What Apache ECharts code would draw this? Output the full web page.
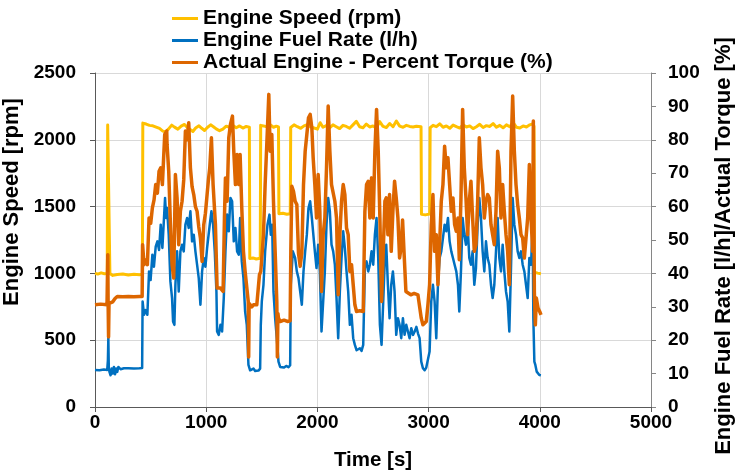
<!DOCTYPE html>
<html>
<head>
<meta charset="utf-8">
<script src="https://cdn.jsdelivr.net/npm/echarts@6/dist/echarts.min.js"></script>
<style>
html,body{margin:0;padding:0;background:#fff;}
#chart{width:735px;height:475px;}
</style>
</head>
<body>
<div id="chart"></div>
<script>
// Series names
var seriesNames = ['Engine Speed (rpm)', 'Engine Fuel Rate (l/h)', 'Actual Engine - Percent Torque (%)'];

// Engine speed [time s, rpm]
var speedData = [[0,1000],[25,995],[55,1004],[85,997],[110,1000],[114,2110],[130,2112],[134,1000],[160,985],[200,992],[250,995],[300,988],[350,994],[400,990],[426,993],[430,2125],[460,2118],[490,2108],[520,2105],[550,2095],[580,2085],[610,2065],[635,2060],[660,2080],[690,2110],[715,2095],[745,2080],[775,2102],[805,2115],[830,2092],[855,2078],[880,2062],[905,2088],[935,2105],[960,2086],[985,2070],[1010,2092],[1040,2112],[1065,2098],[1090,2082],[1120,2068],[1150,2080],[1180,2102],[1210,2094],[1240,2108],[1270,2090],[1300,2104],[1330,2088],[1360,2100],[1388,2095],[1392,1112],[1420,1116],[1450,1108],[1486,1114],[1490,2108],[1515,2104],[1545,2098],[1575,2112],[1605,2094],[1630,2102],[1650,2096],[1654,1446],[1690,1450],[1725,1443],[1756,1447],[1760,2092],[1790,2112],[1820,2098],[1850,2086],[1880,2104],[1910,2114],[1940,2096],[1970,2088],[2000,2080],[2025,2128],[2050,2094],[2080,2106],[2110,2090],[2140,2112],[2170,2098],[2200,2084],[2230,2108],[2260,2100],[2290,2086],[2320,2112],[2350,2138],[2380,2098],[2410,2090],[2440,2118],[2470,2096],[2500,2104],[2530,2088],[2560,2136],[2590,2100],[2620,2092],[2650,2122],[2680,2098],[2710,2140],[2740,2102],[2770,2094],[2800,2108],[2830,2100],[2860,2096],[2890,2102],[2932,2098],[2936,1442],[2970,1438],[3010,1444],[3014,2090],[3040,2108],[3070,2098],[3100,2120],[3130,2094],[3160,2104],[3190,2086],[3220,2110],[3250,2098],[3280,2088],[3310,2112],[3340,2096],[3370,2104],[3400,2084],[3430,2098],[3460,2116],[3490,2092],[3520,2106],[3550,2100],[3580,2122],[3610,2094],[3640,2108],[3670,2090],[3700,2112],[3730,2098],[3760,2128],[3790,2094],[3820,2088],[3850,2104],[3880,2096],[3910,2112],[3940,2120],[3948,2100],[3952,1010],[3980,1002],[4010,998]];

// Engine fuel rate [time s, l/h]
var fuelData = [[0,11.1],[40,11],[80,11.2],[110,11.1],[116,14],[120,20.7],[124,12],[130,10.5],[140,9.5],[150,11.5],[160,10],[170,12],[180,9.8],[190,11.5],[200,10.5],[210,12],[230,11.3],[260,11.6],[300,11.6],[350,11.5],[400,11.6],[424,11.7],[428,31.6],[441,27.6],[456,29],[471,27.6],[486,40.6],[500,38],[516,45.6],[530,42],[546,48],[561,49.6],[576,47],[591,54.6],[606,47.6],[618,55],[630,62.6],[640,56.6],[648,59.6],[663,51.6],[678,37.6],[693,32.6],[702,25.6],[714,24.6],[723,36.6],[738,46.6],[753,34.6],[768,46.6],[783,48.6],[798,46.6],[813,54.6],[828,56.6],[843,53.6],[858,58.6],[873,49.6],[888,51.6],[903,46.6],[918,42.6],[933,38.6],[948,30.6],[963,40.6],[978,44.6],[993,42],[1008,47.6],[1032,54.6],[1047,58.6],[1062,54.6],[1077,46.6],[1092,34.6],[1098,22.6],[1113,21.6],[1128,24.6],[1143,22.6],[1158,32.6],[1173,46.6],[1188,57.6],[1203,52.6],[1218,62.6],[1233,61.6],[1248,49.6],[1263,53.6],[1278,46.6],[1293,45.6],[1305,56.6],[1320,43.6],[1335,38.6],[1350,28.6],[1365,24.6],[1380,12.6],[1395,11],[1410,10.5],[1425,11.5],[1440,10.8],[1455,11.3],[1470,10.9],[1485,11.5],[1491,24.6],[1500,31.6],[1515,36.6],[1530,46.6],[1551,54.6],[1569,57.6],[1581,51.6],[1593,54.6],[1605,34.6],[1620,26.6],[1635,20.6],[1650,13.6],[1665,12],[1680,12.5],[1700,11.8],[1720,12.3],[1740,11.9],[1755,12.5],[1761,36.6],[1779,46.6],[1800,44.6],[1815,40.6],[1830,38.6],[1845,34.6],[1860,30.6],[1875,40.6],[1890,46.6],[1905,51.6],[1920,59.6],[1935,61.6],[1950,56.6],[1962,56.6],[1977,46.6],[1992,41.6],[2007,48.6],[2022,40.6],[2037,22.6],[2052,31.6],[2067,40.6],[2082,54.6],[2097,62.6],[2112,58.6],[2127,48.6],[2142,46.6],[2157,42.6],[2172,32.6],[2187,20.6],[2202,34.6],[2217,44.6],[2232,52.6],[2247,47.6],[2262,40.6],[2277,34.6],[2292,24.6],[2307,27.6],[2322,20.6],[2337,18.6],[2352,17],[2367,16.6],[2382,17.6],[2397,16.8],[2412,18.6],[2427,41.6],[2442,43.6],[2457,40.6],[2472,42.6],[2487,46.6],[2502,42.6],[2517,51.6],[2532,56.6],[2547,44.6],[2562,24.6],[2577,18.6],[2592,31.6],[2607,44.6],[2619,48.6],[2634,36.6],[2649,26.6],[2664,36.6],[2679,40.6],[2694,34.6],[2709,21.6],[2724,26.6],[2739,24.6],[2754,20.6],[2769,26.6],[2784,21.6],[2799,24.6],[2814,22.6],[2829,20.6],[2844,23.6],[2860,21.6],[2875,22.6],[2890,24],[2905,22],[2919,20.6],[2934,13.6],[2949,11.6],[2964,11],[2979,11.8],[2994,11.6],[3009,16.6],[3024,31.6],[3039,36.6],[3054,31.6],[3069,20.6],[3084,36.6],[3099,44.6],[3114,46.6],[3129,50.6],[3144,54.6],[3159,52.6],[3174,56.6],[3189,49.6],[3204,46.6],[3219,44.6],[3234,42.6],[3249,40.6],[3264,36.6],[3276,28.6],[3291,40.6],[3306,56.6],[3321,51.6],[3336,48.6],[3351,54.6],[3366,44.6],[3381,42.6],[3396,46.6],[3411,36.6],[3426,41.6],[3441,54.6],[3456,62.6],[3471,56.6],[3486,46.6],[3501,40.6],[3516,49.6],[3531,44.6],[3546,42.6],[3561,36.6],[3576,32.6],[3591,36.6],[3606,46.6],[3621,56.6],[3636,44.6],[3651,40.6],[3666,48.6],[3681,40.6],[3696,34.6],[3711,31.6],[3726,22.6],[3741,41.6],[3756,62.6],[3771,54.6],[3786,51.6],[3801,46.6],[3816,44.6],[3831,46.6],[3846,42.6],[3861,40.6],[3876,36.6],[3891,32.6],[3906,44.6],[3921,42.6],[3936,54.6],[3942,26.6],[3951,13.6],[3960,12.6],[3972,10.6],[3996,9.6],[4010,9.5]];

// Actual engine percent torque [time s, %]
var torqueData = [[0,30.6],[50,30.8],[108,30.6],[112,31],[115,45.6],[118,31],[122,21],[126,31],[140,30.8],[160,31.5],[180,32.5],[200,33.1],[250,33],[300,33.1],[350,33],[400,33.1],[424,33.1],[428,48.6],[441,42.6],[456,44],[471,42.6],[486,56.6],[501,55],[516,59.6],[531,62],[546,66.6],[561,64],[576,70.6],[591,71.6],[606,66.6],[627,81.6],[645,82.6],[648,78.6],[663,70.6],[678,55],[693,42.6],[708,38.6],[723,69.6],[738,62.6],[753,48.6],[768,58.6],[783,61.6],[798,68],[813,82.6],[828,80],[843,85.1],[858,71.6],[873,66],[888,63.6],[903,60],[918,58.6],[933,54],[948,50.6],[963,43.6],[978,54.6],[993,58],[1008,63.6],[1020,68],[1032,71.6],[1047,80.6],[1062,66.6],[1083,54.6],[1098,35.6],[1113,36],[1128,35.6],[1152,34.6],[1164,56.6],[1173,68.6],[1188,61.6],[1203,80.6],[1218,84.6],[1236,87.1],[1248,76.6],[1263,66.6],[1278,75.6],[1293,66.6],[1305,75.6],[1320,59.6],[1335,46.6],[1350,40.6],[1365,40.6],[1378,31.6],[1382,15],[1386,31],[1395,30.6],[1410,30],[1425,30.6],[1440,30.4],[1455,30.6],[1470,30.6],[1479,39.6],[1491,40.6],[1503,46],[1515,51.6],[1530,66.6],[1551,83.6],[1563,93.6],[1575,76.6],[1590,81.6],[1605,61.6],[1620,46.6],[1635,31.6],[1640,15],[1645,28],[1650,26.6],[1665,25.6],[1700,26],[1730,25.6],[1755,25.8],[1761,46.6],[1770,66.1],[1785,64.6],[1800,61.6],[1815,60.6],[1830,46],[1845,42.1],[1860,46],[1875,66.6],[1890,76.6],[1905,81.6],[1920,86.6],[1935,87.6],[1950,83.6],[1962,74.6],[1977,66.6],[1992,56.6],[2007,69.6],[2022,58.6],[2037,34.6],[2052,51.6],[2067,56.6],[2082,71.6],[2097,90.1],[2112,76.6],[2127,66.6],[2142,66.6],[2157,61.6],[2172,56.6],[2187,33.6],[2202,51.6],[2217,61.6],[2232,66.6],[2247,63.6],[2262,53.6],[2277,51.6],[2292,40.6],[2307,42.6],[2322,36.6],[2337,30.6],[2352,28.6],[2380,28.8],[2412,28.6],[2427,58.6],[2442,66.6],[2457,67.6],[2472,56.6],[2487,68.6],[2502,56.6],[2517,76.6],[2532,89.1],[2547,76.6],[2562,56.6],[2577,31.6],[2592,46.6],[2607,61.6],[2619,62.6],[2634,51.6],[2649,63.6],[2664,46.6],[2679,58.6],[2694,67.6],[2709,62.6],[2724,56.6],[2739,44.6],[2754,48],[2766,56],[2781,45],[2796,34.6],[2811,34.1],[2840,33.6],[2870,34],[2904,33.6],[2919,34],[2934,26.6],[2949,24.6],[2964,25.1],[2979,25.6],[2994,30.6],[3009,36.6],[3024,54.6],[3039,63.6],[3054,46.6],[3069,51.6],[3084,36.6],[3099,48.6],[3114,61.6],[3129,66.6],[3144,78.1],[3159,71.6],[3174,74.6],[3189,66.6],[3204,58.6],[3219,62.6],[3234,54.6],[3249,52.6],[3264,56.6],[3276,44.1],[3291,62.6],[3306,89.1],[3321,71.6],[3336,62.6],[3351,51.6],[3366,61.6],[3381,67.6],[3396,56.6],[3411,46.6],[3426,48.6],[3441,61.6],[3456,80.6],[3471,71.6],[3486,66.6],[3501,56.6],[3516,61.6],[3531,63.6],[3546,62.6],[3561,54.6],[3576,51.6],[3591,48.6],[3606,58.6],[3621,76.6],[3636,71.6],[3651,56.6],[3666,66.6],[3681,58.6],[3696,51.6],[3711,46.6],[3726,36.6],[3741,76.6],[3756,93.1],[3771,76.6],[3786,66.6],[3801,60.6],[3816,56.6],[3831,51.6],[3846,50.6],[3861,44.6],[3876,50.6],[3891,56.6],[3906,72.6],[3921,56.6],[3936,46.6],[3942,85.6],[3951,34.6],[3960,24.6],[3969,32.6],[3984,29.6],[3999,28.6],[4011,27.6]];

var FONT = "Arial, 'Liberation Sans', sans-serif";
function plain(v) { return String(v); }
var chart = echarts.init(document.getElementById('chart'), null, {renderer: 'canvas'});
chart.setOption({
  animation: false,
  backgroundColor: '#ffffff',
  textStyle: {fontFamily: FONT},
  legend: {
    orient: 'vertical', left: 167, top: 3, itemGap: 1,
    icon: 'rect', itemWidth: 26, itemHeight: 3,
    data: seriesNames,
    textStyle: {fontSize: 21, fontWeight: 'bold', color: '#000', fontFamily: FONT, lineHeight: 21}
  },
  grid: {left: 95, right: 84, top: 73, bottom: 68, containLabel: false, outerBoundsMode: 'none'},
  xAxis: {
    type: 'value', min: 0, max: 5000, interval: 1000,
    name: 'Time [s]', nameLocation: 'middle', nameGap: 43,
    nameTextStyle: {fontSize: 20.5, fontWeight: 'bold', color: '#000', fontFamily: FONT},
    axisLine: {lineStyle: {color: '#595959', width: 1}},
    axisTick: {show: true, length: 5, lineStyle: {color: '#595959'}},
    axisLabel: {fontSize: 19, fontWeight: 'bold', color: '#000', margin: 6, fontFamily: FONT, formatter: plain},
    splitLine: {show: true, lineStyle: {color: '#d9d9d9', width: 1}}
  },
  yAxis: [{
    type: 'value', min: 0, max: 2500, interval: 500, position: 'left',
    name: 'Engine Speed [rpm]', nameLocation: 'middle', nameGap: 58, nameRotate: 90,
    nameTextStyle: {fontSize: 22, fontWeight: 'bold', color: '#000', fontFamily: FONT, padding: [0, 0, 0, 76]},
    axisLine: {show: true, lineStyle: {color: '#595959', width: 1}},
    axisTick: {show: true, length: 5, lineStyle: {color: '#595959'}},
    axisLabel: {fontSize: 19, fontWeight: 'bold', color: '#000', margin: 19, fontFamily: FONT, formatter: plain},
    splitLine: {show: true, lineStyle: {color: '#d9d9d9', width: 1}}
  }, {
    type: 'value', min: 0, max: 100, interval: 10, position: 'right',
    name: 'Engine Fuel Rate [l/h]/Actual Torque [%]', nameLocation: 'middle', nameGap: 62, nameRotate: 90,
    nameTextStyle: {fontSize: 22, fontWeight: 'bold', color: '#000', fontFamily: FONT, padding: [0, 12, 0, 0]},
    axisLine: {show: true, lineStyle: {color: '#868686', width: 1}},
    axisTick: {show: true, length: 5, lineStyle: {color: '#868686'}},
    axisLabel: {fontSize: 19, fontWeight: 'bold', color: '#000', margin: 17, fontFamily: FONT, formatter: plain},
    splitLine: {show: false}
  }],
  series: [{
    name: seriesNames[0], type: 'line', yAxisIndex: 0, data: speedData,
    showSymbol: false, symbol: 'none', color: '#FFC000',
    lineStyle: {color: '#FFC000', width: 3, join: 'round'}
  }, {
    name: seriesNames[1], type: 'line', yAxisIndex: 1, data: fuelData,
    showSymbol: false, symbol: 'none', color: '#0070C0',
    lineStyle: {color: '#0070C0', width: 2.5, join: 'round'}
  }, {
    name: seriesNames[2], type: 'line', yAxisIndex: 1, data: torqueData,
    showSymbol: false, symbol: 'none', color: '#DD6600',
    lineStyle: {color: '#DD6600', width: 3.5, join: 'round'}
  }]
});
</script>
</body>
</html>
